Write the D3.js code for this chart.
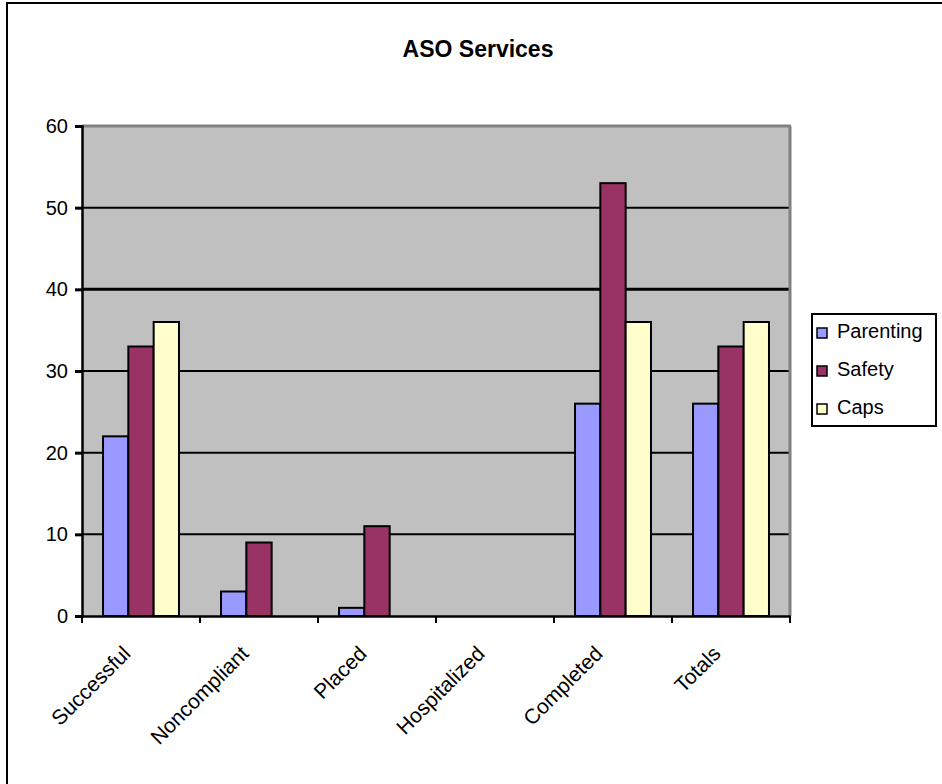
<!DOCTYPE html>
<html><head><meta charset="utf-8">
<script src="https://cdn.jsdelivr.net/npm/d3@7"></script>
<style>html,body{margin:0;padding:0;background:#fff;}svg{display:block;}</style>
</head><body>
<script>
const categories = ["Successful","Noncompliant","Placed","Hospitalized","Completed","Totals"];
const seriesNames = ["Parenting","Safety","Caps"];
const parenting = [22, 3, 1, 0, 26, 26];
const safety = [33, 9, 11, 0, 53, 33];
const caps = [36, 0, 0, 0, 36, 36];
const seriesColors = ["#9999ff","#993366","#ffffcc"];
const yTicks = [0,10,20,30,40,50,60];
const title = "ASO Services";

const W = 942, H = 784;
const svg = d3.select("body").append("svg").attr("width", W).attr("height", H);
const font = "'Liberation Sans', Arial, sans-serif";

// outer frame
svg.append("line").attr("x1",7).attr("x2",W).attr("y1",3).attr("y2",3).attr("stroke","#000").attr("stroke-width",2);
svg.append("line").attr("x1",7).attr("x2",7).attr("y1",2).attr("y2",H).attr("stroke","#000").attr("stroke-width",2);

const L = 82, R = 790, T = 126, B = 616;
const x = d3.scaleBand().domain(categories).range([L, R]).paddingInner(0).paddingOuter(0);
const y = d3.scaleLinear().domain([0, 60]).range([B, T]);

svg.append("rect").attr("x",L).attr("y",T).attr("width",R-L).attr("height",B-T).attr("fill","#c0c0c0");

// gridlines
svg.selectAll(".grid").data(yTicks.filter(d=>d>0 && d<60)).enter().append("line")
  .attr("x1",L).attr("x2",R).attr("y1",d=>y(d)).attr("y2",d=>y(d))
  .attr("stroke","#000").attr("stroke-width",d=>d===40?3:2);
// top and right border gray
svg.append("line").attr("x1",L).attr("x2",R+1).attr("y1",T).attr("y2",T).attr("stroke","#808080").attr("stroke-width",3);
svg.append("line").attr("x1",R).attr("x2",R).attr("y1",T).attr("y2",B).attr("stroke","#808080").attr("stroke-width",3);

// bars
const series = [parenting, safety, caps];
const gapRatio = 1.66;
const bw = x.bandwidth() / (3 + gapRatio);
const inner = d3.scaleBand().domain(seriesNames).range([0, 3*bw]);
series.forEach((vals, si) => {
  svg.append("g").selectAll("rect").data(vals.map((v,i)=>({v, c:categories[i]})).filter(d=>d.v>0)).enter().append("rect")
    .attr("x", d => x(d.c) + bw*gapRatio/2 + inner(seriesNames[si]))
    .attr("y", d => y(d.v))
    .attr("width", inner.bandwidth())
    .attr("height", d => B - y(d.v))
    .attr("fill", seriesColors[si])
    .attr("stroke","#000").attr("stroke-width",2);
});

// axes
const yAxis = svg.append("g").attr("transform",`translate(${L},0)`)
  .call(d3.axisLeft(y).tickValues(yTicks).tickSize(7).tickPadding(7));
yAxis.select(".domain").attr("stroke-width",2.5);
yAxis.selectAll(".tick line").attr("stroke-width",3);
yAxis.selectAll("text").attr("font-family",font).attr("font-size",20).attr("fill","#000");

const xAxis = svg.append("g").attr("transform",`translate(0,${B})`)
  .call(d3.axisBottom(x).tickSize(0).tickFormat(""));
xAxis.select(".domain").attr("stroke-width",2.5);
// tick marks at category boundaries
const bounds = categories.map(c=>x(c)).concat([R]);
svg.selectAll(".xt").data(bounds).enter().append("line")
  .attr("x1",d=>d).attr("x2",d=>d).attr("y1",B).attr("y2",B+7).attr("stroke","#000").attr("stroke-width",2);

svg.append("g").selectAll("text").data(categories).enter().append("text")
  .attr("transform", d => `translate(${x(d)+x.bandwidth()/2 - 13},${B+35}) rotate(-45)`)
  .attr("text-anchor","end").attr("dominant-baseline","middle")
  .attr("font-family",font).attr("font-size",21).text(d=>d);

// title
svg.append("text").attr("x",478).attr("y",57).attr("text-anchor","middle")
  .attr("font-family",font).attr("font-size",23).attr("font-weight","bold").text(title);

// legend
const lg = svg.append("g");
lg.append("rect").attr("x",812).attr("y",314).attr("width",124).attr("height",112).attr("fill","#fff").attr("stroke","#000").attr("stroke-width",2);
seriesNames.forEach((n,i)=>{
  const cy = 333 + i*38;
  lg.append("rect").attr("x",817).attr("y",cy-5).attr("width",10).attr("height",10).attr("fill",seriesColors[i]).attr("stroke","#000").attr("stroke-width",1.5);
  lg.append("text").attr("x",837).attr("y",cy).attr("dominant-baseline","middle")
    .attr("font-family",font).attr("font-size",20).text(n);
});
</script>
</body></html>
